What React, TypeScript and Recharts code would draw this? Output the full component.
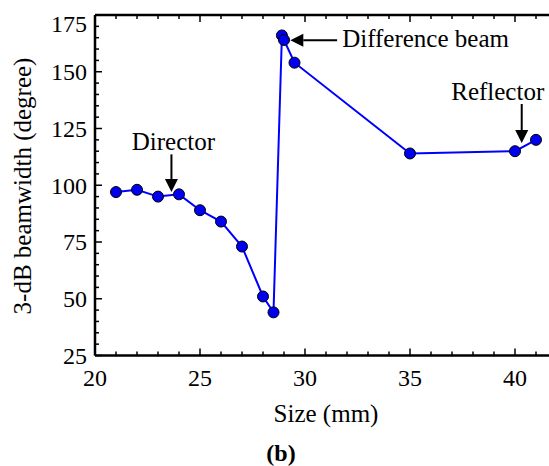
import { LineChart, Line, XAxis, YAxis, ReferenceLine } from "recharts";

const sizes = [21, 22, 23, 24, 25, 26, 27, 28, 28.5, 28.9, 29, 29.5, 35, 40, 41];
const beamwidths = [97, 98, 95, 96, 89, 84, 73, 51, 44, 166, 164, 154, 114, 115, 120];

const xTicks = [20, 21, 22, 23, 24, 25, 26, 27, 28, 29, 30, 31, 32, 33, 34, 35, 36, 37, 38, 39, 40, 41, 42];
const yTicks = [25, 30, 35, 40, 45, 50, 55, 60, 65, 70, 75, 80, 85, 90, 95, 100, 105, 110, 115, 120, 125, 130, 135, 140, 145, 150, 155, 160, 165, 170, 175];

const data = sizes.map((s, i) => ({ size: s, bw: beamwidths[i] }));

const FONT = "Liberation Serif";
const PLOT_TOP = 15;

const BottomTick = (props: any) => {
  const { x, y, payload } = props;
  const major = payload.value % 5 === 0;
  return (
    <g>
      <line x1={x} y1={y} x2={x} y2={y - (major ? 7 : 4)} stroke="#000" strokeWidth={1.5} />
      {major && (
        <text x={x} y={y + 22} dy="0.35em" textAnchor="middle" fontSize={24} fontFamily={FONT} fill="#000">
          {payload.value}
        </text>
      )}
    </g>
  );
};

const TopTick = (props: any) => {
  const { x, y, payload } = props;
  const major = payload.value % 5 === 0;
  return <line x1={x} y1={y} x2={x} y2={y + (major ? 7 : 4)} stroke="#000" strokeWidth={1.5} />;
};

const LeftTick = (props: any) => {
  const { x, y, payload } = props;
  const major = payload.value % 25 === 0;
  const ty = Math.max(y, PLOT_TOP + 9);
  return (
    <g>
      <line x1={x} y1={y} x2={x + (major ? 7 : 4)} y2={y} stroke="#000" strokeWidth={1.5} />
      {major && (
        <text x={x - 8} y={ty} dy="0.35em" textAnchor="end" fontSize={24} fontFamily={FONT} fill="#000">
          {payload.value}
        </text>
      )}
    </g>
  );
};

const arrow = (x1: number, y1: number, x2: number, y2: number) => {
  const dx = x2 - x1;
  const dy = y2 - y1;
  const len = Math.sqrt(dx * dx + dy * dy) || 1;
  const ux = dx / len;
  const uy = dy / len;
  const hl = 13;
  const hw = 6.5;
  const bx = x2 - ux * hl;
  const by = y2 - uy * hl;
  return (
    <g>
      <line x1={x1} y1={y1} x2={bx} y2={by} stroke="#000" strokeWidth={2} />
      <polygon
        points={`${x2},${y2} ${bx - uy * hw},${by + ux * hw} ${bx + uy * hw},${by - ux * hw}`}
        fill="#000"
      />
    </g>
  );
};

const annotation = (label: string, tx: number, ty: number, anchor: string) => (props: any) => {
  const { x1, y1, x2, y2 } = props;
  return (
    <g>
      {arrow(x1, y1, x2, y2)}
      <text x={x1 + tx} y={y1 + ty} textAnchor={anchor} fontSize={25} fontFamily={FONT} fill="#000">
        {label}
      </text>
    </g>
  );
};

const Dot = (props: any) => {
  const { cx, cy } = props;
  return <circle cx={cx} cy={cy} r={5.5} fill="#0000f0" stroke="#000" strokeWidth={1} />;
};

export default function App() {
  return (
    <div
      style={{
        position: "absolute",
        left: 0,
        top: 0,
        width: 549,
        height: 466,
        overflow: "hidden",
        background: "#fff",
        fontFamily: FONT,
      }}
    >
      <LineChart width={570} height={466} data={data} margin={{ top: PLOT_TOP - 1, right: 13, bottom: 109.5, left: 0 }}>
        <XAxis
          dataKey="size"
          type="number"
          domain={[20, 42]}
          ticks={xTicks}
          interval={0}
          height={1}
          tickSize={0}
          tickMargin={0}
          tickLine={false}
          tick={<BottomTick />}
          axisLine={{ stroke: "#000", strokeWidth: 2.5 }}
          allowDataOverflow
        />
        <XAxis
          xAxisId="top"
          orientation="top"
          dataKey="size"
          type="number"
          domain={[20, 42]}
          ticks={xTicks}
          interval={0}
          height={1}
          tickSize={0}
          tickMargin={0}
          tickLine={false}
          tick={<TopTick />}
          axisLine={{ stroke: "#000", strokeWidth: 2.5 }}
          allowDataOverflow
        />
        <YAxis
          type="number"
          domain={[25, 175]}
          ticks={yTicks}
          interval={0}
          width={95}
          tickSize={0}
          tickMargin={0}
          tickLine={false}
          tick={<LeftTick />}
          axisLine={{ stroke: "#000", strokeWidth: 2.5 }}
          allowDataOverflow
        />
        <Line
          dataKey="bw"
          stroke="#0000ff"
          strokeWidth={2}
          dot={<Dot />}
          activeDot={false}
          isAnimationActive={false}
        />
        <ReferenceLine
          segment={[{ x: 23.64, y: 113.6 }, { x: 23.64, y: 97 }]}
          shape={annotation("Director", 2, -4, "middle")}
          ifOverflow="visible"
        />
        <ReferenceLine
          segment={[{ x: 31.53, y: 163.9 }, { x: 29.3, y: 163.9 }]}
          shape={annotation("Difference beam", 5, 7, "start")}
          ifOverflow="visible"
        />
        <ReferenceLine
          segment={[{ x: 40.32, y: 135.8 }, { x: 40.32, y: 118.6 }]}
          shape={annotation("Reflector", -24, -4, "middle")}
          ifOverflow="visible"
        />
      </LineChart>
      <div
        style={{
          position: "absolute",
          left: 22,
          top: 186,
          transform: "translate(-50%, -50%) rotate(-90deg)",
          fontSize: 25,
          whiteSpace: "nowrap",
          lineHeight: 1,
        }}
      >
        3-dB beamwidth (degree)
      </div>
      <div
        style={{
          position: "absolute",
          left: 326,
          top: 413,
          transform: "translate(-50%, -50%)",
          fontSize: 25,
          whiteSpace: "nowrap",
          lineHeight: 1,
        }}
      >
        Size (mm)
      </div>
      <div
        style={{
          position: "absolute",
          left: 281,
          top: 453,
          transform: "translate(-50%, -50%)",
          fontSize: 24,
          fontWeight: "bold",
          whiteSpace: "nowrap",
          lineHeight: 0.85,
        }}
      >
        (b)
      </div>
    </div>
  );
}
